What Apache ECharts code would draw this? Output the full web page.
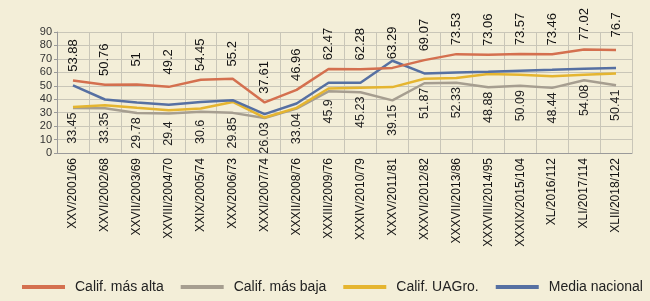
<!DOCTYPE html>
<html>
<head>
<meta charset="utf-8">
<script src="https://cdn.jsdelivr.net/npm/echarts@6/dist/echarts.min.js"></script>
<style>
  html, body { margin: 0; padding: 0; background: #f3eed8; }
  #chart { width: 650px; height: 301px; }
</style>
</head>
<body>
<div id="chart"></div>
<script>
// categorias (legislatura/año/num. participantes)
var categorias = ['XXV/2001/66', 'XXVI/2002/68', 'XXVII/2003/69', 'XXVIII/2004/70', 'XXIX/2005/74',
  'XXX/2006/73', 'XXXI/2007/74', 'XXXII/2008/76', 'XXXIII/2009/76', 'XXXIV/2010/79', 'XXXV/2011/81',
  'XXXVI/2012/82', 'XXXVII/2013/86', 'XXXVIII/2014/95', 'XXXIX/2015/104', 'XL/2016/112',
  'XLI/2017/114', 'XLII/2018/122'];

var califAlta = [53.88, 50.76, 51, 49.2, 54.45, 55.2, 37.61, 46.96, 62.47, 62.28, 63.29, 69.07,
  73.53, 73.06, 73.57, 73.46, 77.02, 76.7];
var califBaja = [33.45, 33.35, 29.78, 29.4, 30.6, 29.85, 26.03, 33.04, 45.9, 45.23, 39.15, 51.87,
  52.33, 48.88, 50.09, 48.44, 54.08, 50.41];
// (sin etiqueta)
var califUAGro = [34.3, 35.6, 33.6, 31.8, 33.1, 38.0, 26.4, 33.6, 48.0, 48.5, 49.0, 55.2,
  55.7, 58.7, 58.2, 57.0, 58.2, 59.2];
var mediaNacional = [50.3, 39.8, 37.6, 35.8, 38.0, 39.3, 28.9, 36.8, 52.2, 52.2, 68.6, 59.2,
  59.9, 60.4, 61.2, 61.9, 62.7, 63.2];

var fuente = 'Liberation Sans';

var myChart = echarts.init(document.getElementById('chart'));
myChart.setOption({
  backgroundColor: '#f3eed8',
  animation: false,
  textStyle: { fontFamily: fuente },
  grid: {
    left: 57,
    right: 18,
    top: 32,
    bottom: 148
  },
  legend: {
    bottom: 7,
    left: 22,
    width: 628,
    padding: 0,
    icon: 'rect',
    itemWidth: 43,
    itemHeight: 4,
    itemGap: 17,
    textStyle: { color: '#222', fontSize: 14, fontFamily: fuente, padding: [0, 0, 0, 5] },
    data: ['Calif. más alta', 'Calif. más baja', 'Calif. UAGro.', 'Media nacional']
  },
  xAxis: {
    type: 'category',
    data: categorias,
    boundaryGap: true,
    axisLine: { lineStyle: { color: '#9a9a9a' } },
    axisTick: { show: false },
    splitLine: { show: true, lineStyle: { color: '#c9c6b8' } },
    axisLabel: {
      rotate: 90,
      interval: 0,
      color: '#111',
      fontSize: 12,
      margin: 5
    }
  },
  yAxis: {
    type: 'value',
    min: 0,
    max: 90,
    interval: 10,
    axisLine: { show: true, lineStyle: { color: '#9a9a9a' } },
    axisTick: { show: true, length: 3, lineStyle: { color: '#9a9a9a' } },
    splitLine: { show: true, lineStyle: { color: '#c9c6b8' } },
    axisLabel: { color: '#333', fontSize: 11, margin: 5 }
  },
  series: [{
    name: 'Calif. más alta',
    type: 'line',
    data: califAlta,
    symbol: 'circle',
    symbolSize: 0.1,
    z: 4,
    lineStyle: { color: '#d4704f', width: 2.5 },
    itemStyle: { color: '#d4704f' },
    labelLayout: { hideOverlap: false },
    label: {
      show: true,
      position: 'top',
      distance: 25,
      rotate: 90,
      align: 'center',
      verticalAlign: 'middle',
      color: '#111',
      fontSize: 13
    }
  }, {
    name: 'Calif. más baja',
    type: 'line',
    data: califBaja,
    symbol: 'circle',
    symbolSize: 0.1,
    z: 1,
    lineStyle: { color: '#a69e90', width: 2.5 },
    itemStyle: { color: '#a69e90' },
    labelLayout: { hideOverlap: false },
    label: {
      show: true,
      position: 'bottom',
      distance: 20,
      rotate: 90,
      align: 'center',
      verticalAlign: 'middle',
      color: '#222',
      fontSize: 12.5
    }
  }, {
    name: 'Calif. UAGro.',
    type: 'line',
    data: califUAGro,
    symbol: 'none',
    z: 2,
    lineStyle: { color: '#e5b530', width: 2.5 },
    itemStyle: { color: '#e5b530' }
  }, {
    name: 'Media nacional',
    type: 'line',
    data: mediaNacional,
    symbol: 'none',
    z: 3,
    lineStyle: { color: '#5670a2', width: 2.5 },
    itemStyle: { color: '#5670a2' }
  }]
});
</script>
</body>
</html>
